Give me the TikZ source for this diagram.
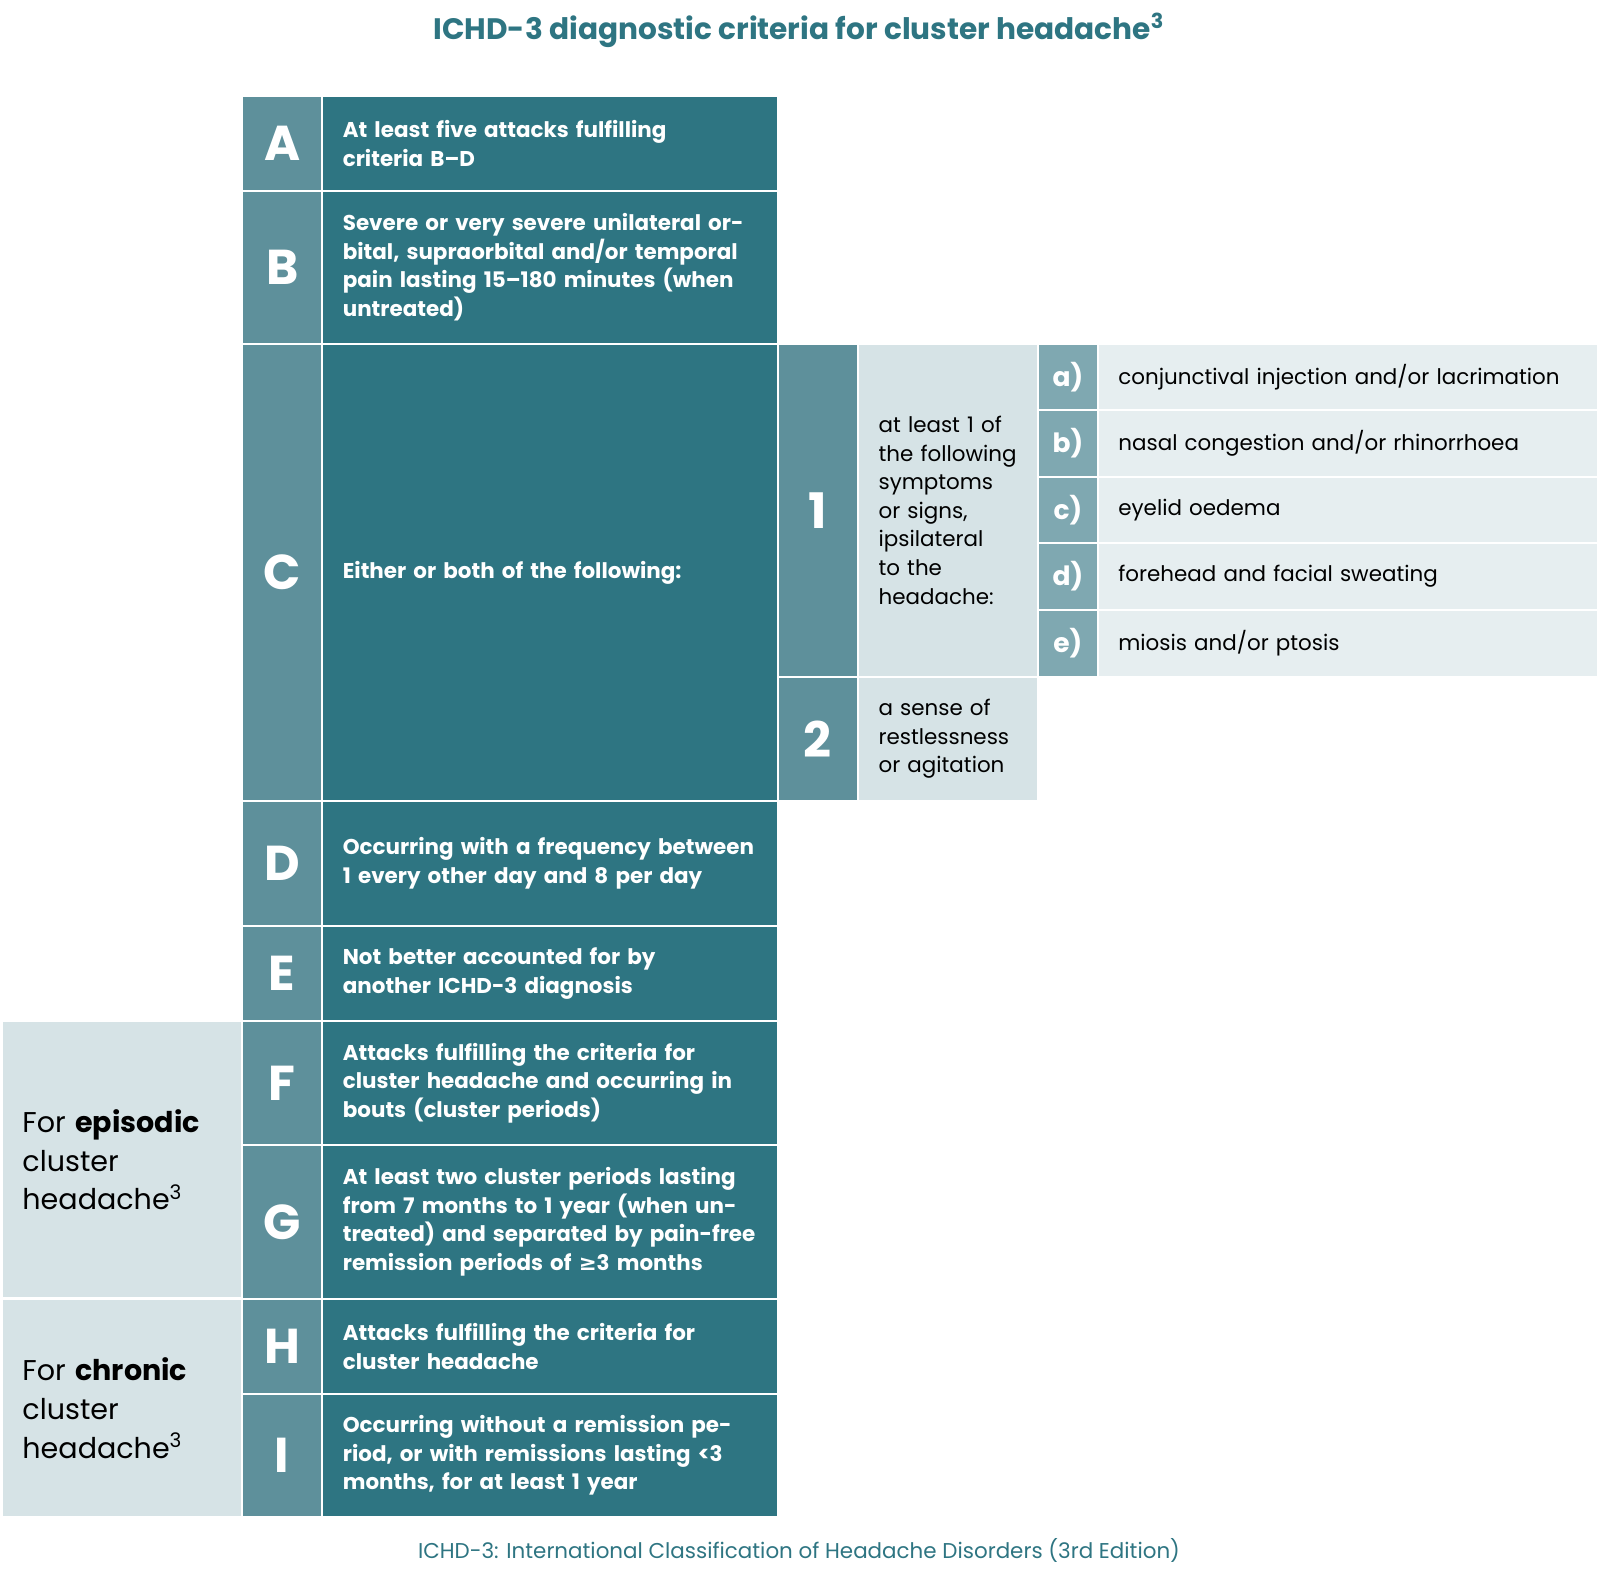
\documentclass[tikz,border=0pt]{standalone}
\usepackage{fontspec}
\setmainfont{Poppins}
\newfontfamily\symf{DejaVu Sans}
\definecolor{dk}{HTML}{2E7582}
\definecolor{md}{HTML}{5E909B}
\definecolor{sl}{HTML}{7FA8B1}
\definecolor{lt}{HTML}{D6E3E6}
\definecolor{vl}{HTML}{E6EEF0}
\tikzset{
 base/.style={draw=white,line width=1pt,inner sep=0pt,outer sep=0pt},
 dkc/.style={base,fill=dk,text=white,font=\fontsize{10.5}{14}\selectfont\bfseries},
 ltr/.style={base,fill=md,text=white,font=\fontsize{24}{24}\selectfont\bfseries},
 sub/.style={base,fill=sl,text=white,font=\fontsize{13}{14}\selectfont\bfseries},
 ltc/.style={base,fill=lt,text=black,font=\fontsize{10.5}{14}\selectfont},
 vlc/.style={base,fill=vl,text=black,font=\fontsize{10.5}{14}\selectfont},
 side/.style={base,fill=lt,text=black,font=\fontsize{14}{19}\selectfont},
}
\newcommand\mycell[7]{%
 \pgfmathsetmacro\tw{(#5-#3)*0.5-20}%
 \node[#2,minimum width={(#5-#3)*0.5pt},minimum height={(#6-#4)*0.5pt},text width=\tw pt,align=left] (#1) at ({(#3+#5)/2},{(#4+#6)/2}) {#7};}
\newcommand\myltr[7]{%
 \node[#2,minimum width={(#5-#3)*0.5pt},minimum height={(#6-#4)*0.5pt},align=center] (#1) at ({(#3+#5)/2},{(#4+#6)/2}) {#7};}
\begin{document}
\begin{tikzpicture}[x=0.5pt,y=-0.5pt]
\useasboundingbox (0,0) rectangle (1568,1539);
\node[text=dk,font=\fontsize{14.5}{16}\selectfont\bfseries] (title) at (783,30) {ICHD-3 diagnostic criteria for cluster headache\textsuperscript{3}};
% side labels
\mycell{ep}{side}{2}{1001}{237}{1272}{For \textbf{episodic}\\cluster\\headache\textsuperscript{3}}
\mycell{ch}{side}{2}{1273}{237}{1487}{For \textbf{chronic}\\cluster\\headache\textsuperscript{3}}
% main rows
\myltr{lA}{ltr}{237}{94}{316}{187}{A}
\mycell{tA}{dkc}{316}{94}{762}{187}{At least five attacks fulfilling\\criteria B–D}
\myltr{lB}{ltr}{237}{187}{316}{337}{B}
\mycell{tB}{dkc}{316}{187}{762}{337}{Severe or very severe unilateral orbital, supraorbital and/or temporal pain lasting 15–180 minutes (when untreated)}
\myltr{lC}{ltr}{237}{337}{316}{785}{C}
\mycell{tC}{dkc}{316}{337}{762}{785}{Either or both of the following:}
\myltr{lD}{ltr}{237}{785}{316}{907}{D}
\mycell{tD}{dkc}{316}{785}{762}{907}{Occurring with a frequency between 1 every other day and 8 per day}
\myltr{lE}{ltr}{237}{907}{316}{1001}{E}
\mycell{tE}{dkc}{316}{907}{762}{1001}{Not better accounted for by\\another ICHD-3 diagnosis}
\myltr{lF}{ltr}{237}{1001}{316}{1122}{F}
\mycell{tF}{dkc}{316}{1001}{762}{1122}{Attacks fulfilling the criteria for cluster headache and occurring in bouts (cluster periods)}
\myltr{lG}{ltr}{237}{1122}{316}{1273}{G}
\mycell{tG}{dkc}{316}{1122}{762}{1273}{At least two cluster periods lasting from 7 months to 1 year (when untreated) and separated by pain-free remission periods of {\symf ≥}3 months}
\myltr{lH}{ltr}{237}{1273}{316}{1366}{H}
\mycell{tH}{dkc}{316}{1273}{762}{1366}{Attacks fulfilling the criteria for\\cluster headache}
\myltr{lI}{ltr}{237}{1366}{316}{1487}{I}
\mycell{tI}{dkc}{316}{1366}{762}{1487}{Occurring without a remission period, or with remissions lasting <3 months, for at least 1 year}
% C sub
\myltr{n1}{ltr}{762}{337}{841}{663}{1}
\mycell{t1}{ltc}{841}{337}{1017}{663}{at least 1 of\\the following\\symptoms\\or signs,\\ipsilateral\\to the\\headache:}
\myltr{n2}{ltr}{762}{663}{841}{785}{2}
\mycell{t2}{ltc}{841}{663}{1017}{785}{a sense of\\restlessness\\or agitation}
\myltr{sa}{sub}{1017}{337}{1076}{402}{a)}
\mycell{ta}{vlc}{1076}{337}{1566}{402}{conjunctival injection and/or lacrimation}
\myltr{sb}{sub}{1017}{402}{1076}{467}{b)}
\mycell{tb}{vlc}{1076}{402}{1566}{467}{nasal congestion and/or rhinorrhoea}
\myltr{sc}{sub}{1017}{467}{1076}{532}{c)}
\mycell{tc}{vlc}{1076}{467}{1566}{532}{eyelid oedema}
\myltr{sd}{sub}{1017}{532}{1076}{598}{d)}
\mycell{td}{vlc}{1076}{532}{1566}{598}{forehead and facial sweating}
\myltr{se}{sub}{1017}{598}{1076}{663}{e)}
\mycell{te}{vlc}{1076}{598}{1566}{663}{miosis and/or ptosis}
\node[text=dk,font=\fontsize{10.5}{12}\selectfont] (foot) at (783,1519) {ICHD-3: International Classification of Headache Disorders (3rd Edition)};
\end{tikzpicture}
\end{document}
